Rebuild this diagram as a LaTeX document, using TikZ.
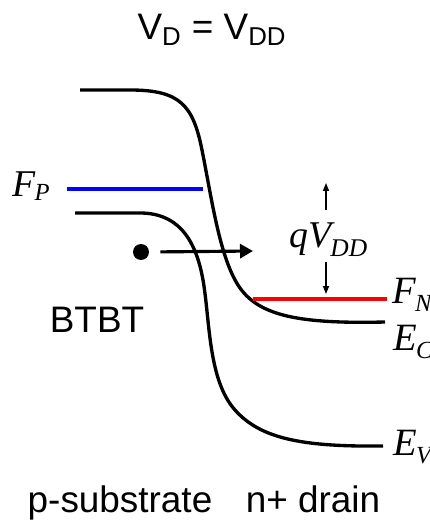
\documentclass[tikz,border=0pt]{standalone}
\usepackage{fontspec}
\setmainfont{Liberation Sans}
\newfontfamily\timesfont{Liberation Serif}
\usetikzlibrary{arrows.meta,positioning}

% italic level label: size, subscript size, subscript drop, letter(s), subscript
\newcommand{\lvlname}[5]{{\fontsize{#1}{#1}\selectfont\timesfont\itshape #4\kern-0.5pt\raisebox{-#3}{\fontsize{#2}{#2}\selectfont #5}}}

\begin{document}
\begin{tikzpicture}[x=0.02cm,y=-0.02cm,
	band/.style={line width=1.9pt},
	fermi/.style={line width=2pt},
	sans/.style={font=\fontsize{21}{25}\selectfont, inner sep=0pt},
	lvl/.style={anchor=base west, inner sep=0pt},
	tunnel/.style={line width=1.8pt,-{Triangle[length=0.26cm,width=0.28cm]}},
	volt/.style={line width=0.8pt,-{Triangle[length=0.16cm,width=0.12cm]}}
]
	\clip (0,0) rectangle (429,520);

	\node[sans] (title) at (212,30) {V\textsubscript{D} = V\textsubscript{DD}};

	% conduction band
	\draw[band] (80,90) -- (130,90) .. controls (180,90) and (193,105) .. (202,150)
		.. controls (212,200) and (220,260) .. (240,288)
		.. controls (260,316) and (300,324) .. (385,322);

	% valence band
	\draw[band] (75,213) -- (140,213) .. controls (175,213) and (195,235) .. (203,280)
		.. controls (210,320) and (208,380) .. (235,410)
		.. controls (260,438) and (300,447) .. (383,446);

	% quasi Fermi levels
	\draw[fermi,blue] (67,189) -- (203,189);
	\draw[fermi,red] (253,299) -- (387,299);

	\node[lvl] (FP) at (12,196) {\lvlname{21.5}{14}{2.5pt}{F}{P}};
	\node[lvl] (FN) at (392,303) {\lvlname{22}{14}{5pt}{F}{N}};
	\node[lvl] (EC) at (393,350) {\lvlname{22}{14}{5pt}{E}{C}};
	\node[lvl] (EV) at (393,455) {\lvlname{22}{14}{5pt}{E}{V}};

	% tunnelling electron
	\node[circle,fill,inner sep=0pt,minimum size=0.32cm] (dot) at (141,252) {};
	\coordinate (tip) at (253,251);
	\draw[tunnel,shorten <=0.22cm] (dot.east) -- (tip);

	% applied voltage
	\node[lvl] (qv) at (289,247) {\lvlname{21.5}{14.5}{5.5pt}{qV}{DD}};
	\coordinate (vtop) at (326,183);
	\coordinate (vbot) at (326,294);
	\draw[volt] ([yshift=0.24cm]qv.north -| vtop) -- (vtop);
	\draw[volt] ([yshift=-0.1cm]qv.south -| vbot) -- (vbot);

	\node[sans] (btbt) at (97,320) {BTBT};
	\node[sans,anchor=base] (psub) at (120,512) {p-substrate};
	\node[sans,anchor=base] (ndrain) at (313,512) {n+ drain};

\end{tikzpicture}
\end{document}
